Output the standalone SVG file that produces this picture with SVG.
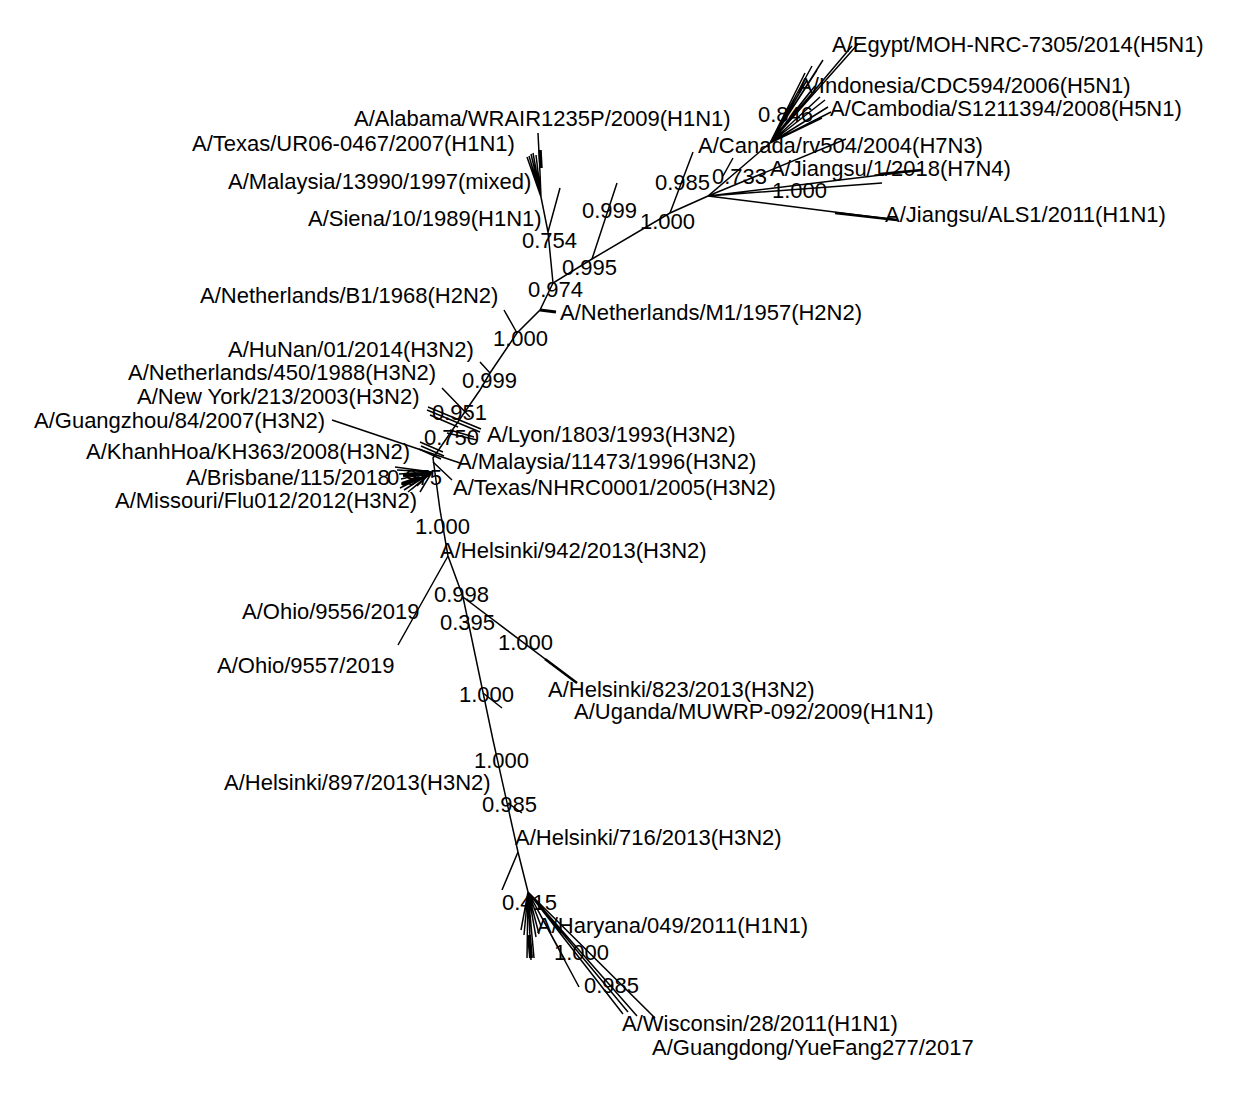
<svg xmlns="http://www.w3.org/2000/svg" width="1258" height="1102" viewBox="0 0 1258 1102">
<style>
text{font-family:"Liberation Sans",Arial,Helvetica,sans-serif;font-size:22px;fill:#000}
.e{stroke:#000;stroke-width:1.5;fill:none;stroke-linecap:butt}
.t{stroke:#000;stroke-width:3.5;fill:none}
</style>
<rect width="1258" height="1102" fill="#fff"/>
<g id="connectors">
<polyline class="e" points="770,143 708,196 670,213 592,259 553,283 540,310 517,333 490,373 480,390 433,458 440,510 448,556 463,597 493,740 518,852 528,892"/>
<path class="e" d="M708,196L897,220M708,196L922,170M708,196L882,183M708,196L846,139M723,176L733,158"/>
<path class="t" d="M835,213L897,220M880,174L922,170" style="stroke-width:2.5"/>
<path class="e" d="M770,143L823,60M770,143L817,70M770,143L807,80M770,143L852,46M770,143L858,44M770,143L812,66M770,143L820,97M770,143L825,100M770,143L828,107M770,143L831,112M770,143L815,86M770,143L810,92M770,143L800,108M770,143L822,118M770,143L805,73"/>
<path class="e" d="M670,213L693,152M592,259L617,183"/>
<path class="e" d="M553,283L548,232M548,232L560,188M548,232L541,197M541,197L527,157M541,197L529,156M541,197L531,154M541,197L533,153M541,197L536,155M541,197L540,173M538,133L540,173"/>
<path class="t" d="M540,150L541,168"/>
<path class="t" d="M540,310L556,312" style="stroke-width:3"/>
<path class="e" d="M517,333L504,310M490,373L480,362"/>
<path class="e" d="M442,388L470,417M427,410L480,432M428,407L481,429M430,415L458,427M447,433L477,440M450,430L474,437M332,420L460,463"/>
<path class="e" d="M420,442L443,452M421,446L444,456M419,449L441,459M433,462L452,480"/>
<path class="e" d="M432,472L395,467M432,472L397,470M432,472L399,474M432,472L401,479M432,472L400,488M432,472L404,490M432,472L408,492M432,472L412,489M432,472L417,486M432,472L420,492"/>
<path class="t" d="M403,475L428,474M402,484L420,478" style="stroke-width:4"/>
<path class="e" d="M448,556L398,645M463,597L577,683M483,693L502,708M508,803L522,813M518,852L502,890"/>
<path class="t" d="M545,659L577,683" style="stroke-width:2.5"/>
<path class="e" d="M528,892L579,987M528,892L623,1014M528,892L628,1012M528,892L637,1016M528,892L650,1013M528,892L655,1018M528,892L565,960M528,892L521,930M528,892L524,935M528,892L527,958M528,892L531,960M528,892L534,958M528,892L536,937M528,892L539,934M528,892L541,926"/>
<path class="t" d="M529,935L531,958" style="stroke-width:4"/>
</g>
<g id="labels">
<g id="n-egypt"><text x="832" y="52">A/Egypt/MOH-NRC-7305/2014(H5N1)</text></g>
<g id="n-indonesia"><text x="798" y="93">A/Indonesia/CDC594/2006(H5N1)</text></g>
<g id="s-0846"><text x="758" y="122">0.846</text></g>
<g id="n-cambodia"><text x="830" y="116">A/Cambodia/S1211394/2008(H5N1)</text></g>
<g id="n-canada"><text x="698" y="153">A/Canada/rv504/2004(H7N3)</text></g>
<g id="s-0985a"><text x="655" y="190">0.985</text></g>
<g id="s-0733"><text x="712" y="184">0.733</text></g>
<g id="n-jiangsu1"><text x="770" y="176">A/Jiangsu/1/2018(H7N4)</text></g>
<g id="s-1000a"><text x="772" y="198">1.000</text></g>
<g id="n-jiangsuals1"><text x="885" y="222">A/Jiangsu/ALS1/2011(H1N1)</text></g>
<g id="s-1000b"><text x="640" y="229">1.000</text></g>
<g id="s-0999a"><text x="582" y="218">0.999</text></g>
<g id="s-0995"><text x="562" y="275">0.995</text></g>
<g id="s-0974"><text x="528" y="297">0.974</text></g>
<g id="n-nethm1"><text x="560" y="320">A/Netherlands/M1/1957(H2N2)</text></g>
<g id="n-nethb1"><text x="200" y="303">A/Netherlands/B1/1968(H2N2)</text></g>
<g id="s-1000c"><text x="493" y="346">1.000</text></g>
<g id="s-0754"><text x="522" y="248">0.754</text></g>
<g id="n-siena"><text x="308" y="226">A/Siena/10/1989(H1N1)</text></g>
<g id="n-malaysia13990"><text x="228" y="189">A/Malaysia/13990/1997(mixed)</text></g>
<g id="n-texasur06"><text x="192" y="151">A/Texas/UR06-0467/2007(H1N1)</text></g>
<g id="n-alabama"><text x="354" y="126">A/Alabama/WRAIR1235P/2009(H1N1)</text></g>
<g id="n-hunan"><text x="228" y="357">A/HuNan/01/2014(H3N2)</text></g>
<g id="s-0999b"><text x="462" y="388">0.999</text></g>
<g id="n-neth450"><text x="128" y="380">A/Netherlands/450/1988(H3N2)</text></g>
<g id="n-newyork"><text x="137" y="404">A/New York/213/2003(H3N2)</text></g>
<g id="s-0951"><text x="432" y="420">0.951</text></g>
<g id="n-guangzhou"><text x="34" y="428">A/Guangzhou/84/2007(H3N2)</text></g>
<g id="s-0750"><text x="424" y="445">0.750</text></g>
<g id="n-lyon"><text x="487" y="442">A/Lyon/1803/1993(H3N2)</text></g>
<g id="n-khanhhoa"><text x="86" y="459">A/KhanhHoa/KH363/2008(H3N2)</text></g>
<g id="n-malaysia11473"><text x="457" y="469">A/Malaysia/11473/1996(H3N2)</text></g>
<g id="n-brisbane"><text x="186" y="485">A/Brisbane/115/2018</text></g>
<g id="s-0975"><text x="387" y="485">0.975</text></g>
<g id="n-texasnhrc"><text x="453" y="495">A/Texas/NHRC0001/2005(H3N2)</text></g>
<g id="n-missouri"><text x="115" y="508">A/Missouri/Flu012/2012(H3N2)</text></g>
<g id="s-1000d"><text x="415" y="534">1.000</text></g>
<g id="n-helsinki942"><text x="440" y="558">A/Helsinki/942/2013(H3N2)</text></g>
<g id="s-0998"><text x="434" y="602">0.998</text></g>
<g id="n-ohio9556"><text x="242" y="619">A/Ohio/9556/2019</text></g>
<g id="s-0395"><text x="440" y="630">0.395</text></g>
<g id="s-1000e"><text x="498" y="650">1.000</text></g>
<g id="n-ohio9557"><text x="217" y="673">A/Ohio/9557/2019</text></g>
<g id="n-helsinki823"><text x="548" y="697">A/Helsinki/823/2013(H3N2)</text></g>
<g id="s-1000f"><text x="459" y="702">1.000</text></g>
<g id="n-uganda"><text x="574" y="719">A/Uganda/MUWRP-092/2009(H1N1)</text></g>
<g id="s-1000g"><text x="474" y="768">1.000</text></g>
<g id="n-helsinki897"><text x="224" y="790">A/Helsinki/897/2013(H3N2)</text></g>
<g id="s-0985b"><text x="482" y="812">0.985</text></g>
<g id="n-helsinki716"><text x="515" y="845">A/Helsinki/716/2013(H3N2)</text></g>
<g id="s-0415"><text x="502" y="910">0.415</text></g>
<g id="n-haryana"><text x="537" y="933">A/Haryana/049/2011(H1N1)</text></g>
<g id="s-1000h"><text x="554" y="960">1.000</text></g>
<g id="s-0985c"><text x="584" y="993">0.985</text></g>
<g id="n-wisconsin"><text x="622" y="1031">A/Wisconsin/28/2011(H1N1)</text></g>
<g id="n-guangdong"><text x="652" y="1055">A/Guangdong/YueFang277/2017</text></g>
</g>
</svg>
